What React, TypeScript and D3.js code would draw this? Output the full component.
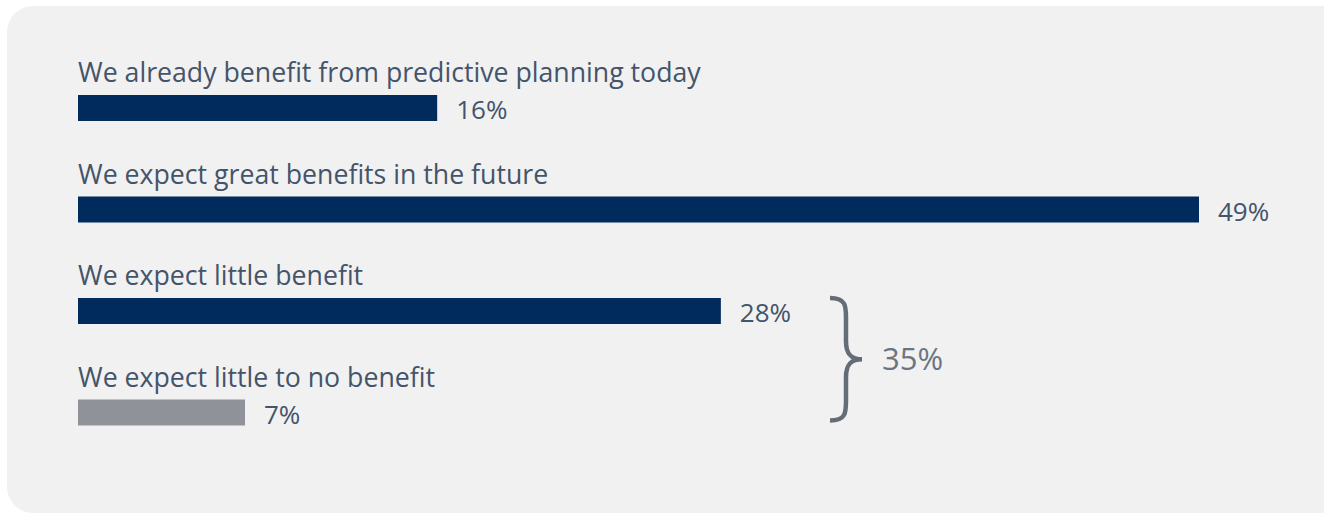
import React from "react";
import * as d3 from "d3";

const categories = [
  "We already benefit from predictive planning today",
  "We expect great benefits in the future",
  "We expect little benefit",
  "We expect little to no benefit",
];
const values = [15.7, 49.0, 28.1, 7.3];
const barColors = ["#002b5c", "#002b5c", "#002b5c", "#8f9399"];
const groupIndices = [2, 3];
const groupLabel = "35%";

const W = 1324;
const H = 514;
const fmt = (v: number) => d3.format(".0f")(v) + "%";

export default function App() {
  const x = d3.scaleLinear().domain([0, 49]).range([78, 1199]);
  const y = d3.scaleBand<number>().domain(d3.range(values.length)).range([95, 501]).paddingInner(0);
  const barH = 26;
  const y0 = y(groupIndices[0])!;
  const y1 = y(groupIndices[1])! + barH - 5;
  const bx = 830;
  const mid = (y0 + y1) / 2;
  const v = 846;
  const tip = 862;
  const brace = `M${bx},${y0} C${v},${y0} ${v},${y0 + 8} ${v},${y0 + 20} L${v},${mid - 18} C${v},${mid - 4} ${v + 6},${mid} ${tip},${mid} C${v + 6},${mid} ${v},${mid + 4} ${v},${mid + 18} L${v},${y1 - 20} C${v},${y1 - 8} ${v},${y1} ${bx},${y1}`;
  return (
    <svg width={W} height={H} style={{ position: "absolute", left: 0, top: 0, display: "block" }}>
      <rect x={7} y={6} width={1360} height={507} rx={26} fill="#f1f1f1" />
      {values.map((val, i) => {
        const top = y(i)!;
        return (
          <g key={i}>
            <text x={78} y={top - 13} fontFamily="'Open Sans'" fontSize={26.7} fill="#44546a">
              {categories[i]}
            </text>
            <rect x={x(0)} y={top} width={x(val) - x(0)} height={barH} fill={barColors[i]} />
            <text x={x(val) + 19} y={top + barH - 2} fontFamily="'Open Sans'" fontSize={26} fill="#44546a">
              {fmt(val)}
            </text>
          </g>
        );
      })}
      <path d={brace} fill="none" stroke="#636d77" strokeWidth={4.5} />
      <text x={882} y={mid + 11} fontFamily="'Open Sans'" fontSize={31} fill="#6b7580">
        {groupLabel}
      </text>
    </svg>
  );
}
